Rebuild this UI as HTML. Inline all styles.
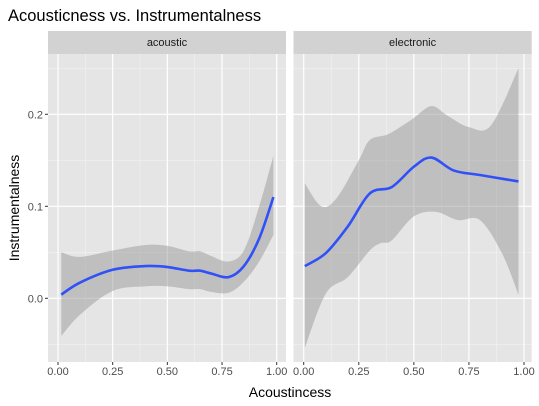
<!DOCTYPE html>
<html><head><meta charset="utf-8"><style>
html,body{margin:0;padding:0;background:#fff}
svg{display:block;font-family:"Liberation Sans",sans-serif}
</style></head><body>
<svg id="chart" width="539" height="406">
<text x="8" y="21" font-size="16.5" fill="#000">Acousticness vs. Instrumentalness</text>
<text transform="translate(19,208) rotate(-90)" text-anchor="middle" font-size="14" fill="#000">Instrumentalness</text>
<text x="290" y="397" text-anchor="middle" font-size="14" fill="#000">Acoustincess</text>
</svg>
<script>
const facets = ["acoustic","electronic"];
const xTickLabels = ["0.00","0.25","0.50","0.75","1.00"];
const xTicks = [0,0.25,0.5,0.75,1];
const yTicks = [0,0.1,0.2];
const yTickLabels = ["0.0","0.1","0.2"];
const acX = [0.015,0.1,0.25,0.4,0.5,0.6,0.65,0.7,0.78,0.85,0.92,0.985];
const acFit = [0.004,0.017,0.031,0.035,0.034,0.030,0.030,0.027,0.023,0.035,0.065,0.11];
const acHi = [0.050,0.045,0.052,0.058,0.057,0.051,0.051,0.046,0.040,0.052,0.10,0.155];
const acLo = [-0.041,-0.018,0.008,0.013,0.013,0.010,0.010,0.007,0.006,0.018,0.04,0.069];
const elX = [0.005,0.1,0.2,0.3,0.4,0.5,0.58,0.68,0.8,0.975];
const elFit = [0.035,0.049,0.078,0.114,0.121,0.143,0.153,0.139,0.134,0.127];
const elHiX = [0.005,0.08,0.15,0.25,0.3,0.38,0.45,0.5,0.58,0.65,0.75,0.85,0.975];
const elHi = [0.125,0.1,0.109,0.150,0.172,0.178,0.188,0.196,0.209,0.199,0.186,0.188,0.25];
const elLoX = [0.005,0.1,0.2,0.3,0.35,0.4,0.5,0.6,0.7,0.8,0.9,0.975];
const elLo = [-0.054,0.005,0.023,0.052,0.060,0.063,0.089,0.094,0.085,0.085,0.049,0.004];

const NS="http://www.w3.org/2000/svg";
const svg=document.getElementById('chart');
const panels=[{x0:48,x1:286,z:58,one:276.7},{x0:293.5,x1:531.7,z:303.7,one:524}];
const pTop=54,pBot=362;
const yS=v=>298.3-v*920;
function mk(t,a,p){const e=document.createElementNS(NS,t);for(const k in a)e.setAttribute(k,a[k]);(p||svg).appendChild(e);return e;}
function spline(pts){let d="M"+pts[0][0]+","+pts[0][1];for(let i=0;i<pts.length-1;i++){const p0=pts[i-1]||pts[i],p1=pts[i],p2=pts[i+1],p3=pts[i+2]||p2;
d+=" C"+(p1[0]+(p2[0]-p0[0])/6)+","+(p1[1]+(p2[1]-p0[1])/6)+" "+(p2[0]-(p3[0]-p1[0])/6)+","+(p2[1]-(p3[1]-p1[1])/6)+" "+p2[0]+","+p2[1];}return d;}
function splineCont(pts){return spline(pts).replace(/^M/,"L");}
const data=[{fx:acX,fit:acFit,hx:acX,hi:acHi,lx:acX,lo:acLo},{fx:elX,fit:elFit,hx:elHiX,hi:elHi,lx:elLoX,lo:elLo}];
panels.forEach((p,i)=>{
  const xS=v=>p.z+v*(p.one-p.z);
  const g=mk('g',{});
  
  
  const bg=mk('rect',{x:p.x0,y:pTop,width:p.x1-p.x0,height:pBot-pTop,fill:'#e5e5e5'},g);
  
  
  [-0.05,0.05,0.15,0.25].forEach(v=>{mk('line',{x1:p.x0,x2:p.x1,y1:yS(v),y2:yS(v),stroke:'#f2f2f2','stroke-width':0.6},g);});
  [0.125,0.375,0.625,0.875].forEach(v=>{mk('line',{x1:xS(v),x2:xS(v),y1:pTop,y2:pBot,stroke:'#f2f2f2','stroke-width':0.6},g);});
  yTicks.forEach(v=>{mk('line',{x1:p.x0,x2:p.x1,y1:yS(v),y2:yS(v),stroke:'#fff','stroke-width':1.2},g);});
  xTicks.forEach((v,j)=>{mk('line',{x1:xS(v),x2:xS(v),y1:pTop,y2:pBot,stroke:'#fff','stroke-width':1.2},g);
    mk('line',{x1:xS(v),x2:xS(v),y1:pBot,y2:pBot+3,stroke:'#333'});
    const t=mk('text',{x:xS(v),y:pBot+13,'text-anchor':'middle','font-size':'11',fill:'#4d4d4d'});t.textContent=xTickLabels[j];
    
    });
  const d=data[i];
  const hiPts=d.hx.map((x,k)=>[xS(x),yS(d.hi[k])]);
  const loPts=d.lx.map((x,k)=>[xS(x),yS(d.lo[k])]).reverse();
  const band=mk('path',{d:spline(hiPts)+" "+splineCont(loPts)+"Z",fill:'#999','fill-opacity':0.5},g);
  
  
  const line=mk('path',{d:spline(d.fx.map((x,k)=>[xS(x),yS(d.fit[k])])),fill:'none',stroke:'#3050f8','stroke-width':2.6},g);
  
  
  const st=mk('rect',{x:p.x0,y:31,width:p.x1-p.x0,height:23,fill:'#d2d2d2'},g);
  
  
  const sl=mk('text',{x:(p.x0+p.x1)/2,y:46,'text-anchor':'middle','font-size':'11',fill:'#1a1a1a'},g);sl.textContent=facets[i];
  
  
});
yTicks.forEach((v,j)=>{mk('line',{x1:45,x2:48,y1:yS(v),y2:yS(v),stroke:'#333'});
  const t=mk('text',{x:43,y:yS(v)+4,'text-anchor':'end','font-size':'11',fill:'#4d4d4d'});t.textContent=yTickLabels[j];
  
  });
</script>
</body></html>
